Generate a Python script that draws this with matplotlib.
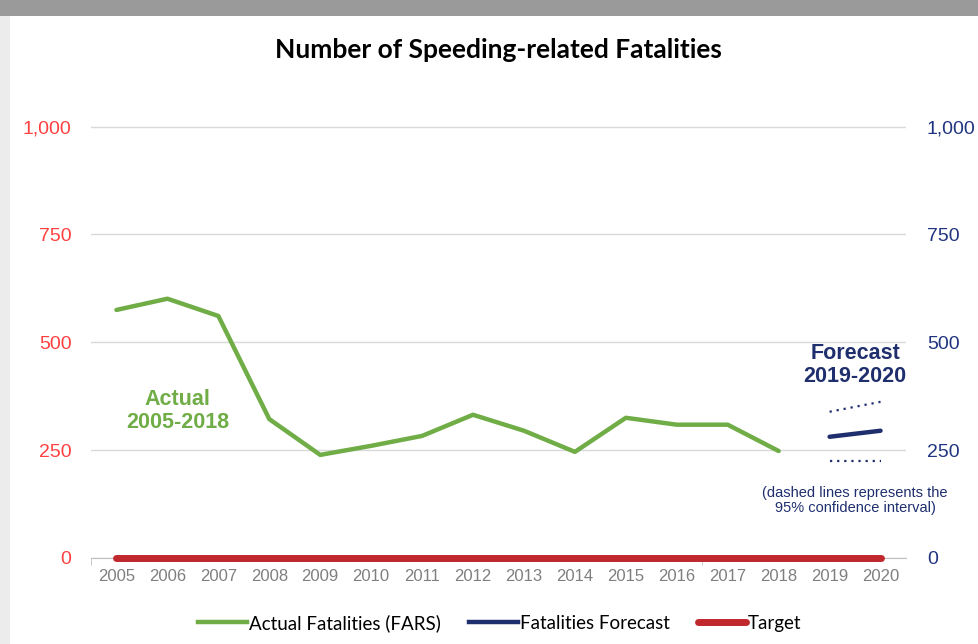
import matplotlib.pyplot as plt
from matplotlib.patches import Rectangle
from matplotlib.lines import Line2D

plt.rcParams['font.family'] = ['Liberation Sans', 'DejaVu Sans']

years = list(range(2005, 2021))
actual_years = list(range(2005, 2019))
actual = [575, 601, 561, 322, 239, 260, 283, 332, 295, 246, 325, 309, 309, 248]
fc_years = [2019, 2020]
forecast = [281, 295]
upper_ci = [339, 362]
lower_ci = [225, 225]
target = [0] * len(years)

green = '#70AD47'
navy = '#1F2F6E'
red = '#C0282D'

fig = plt.figure(figsize=(9.79, 6.44), dpi=100)
fig.patch.set_facecolor('white')

# grey shadow strip on top, thin frame edge on the left
fig.patches.append(Rectangle((0, 1 - 16 / 644), 1, 16 / 644, transform=fig.transFigure,
                             facecolor='#9a9a9a', edgecolor='none'))
fig.patches.append(Rectangle((0, 0), 10 / 979, 1 - 16 / 644, transform=fig.transFigure,
                             facecolor='#ececec', edgecolor='none'))

ax = fig.add_axes([91 / 979, 86 / 644, 815 / 979, 434 / 644])
ax.set_xlim(2004.5, 2020.5)
ax.set_ylim(0, 1006)

ax.plot(years, target, color=red, lw=5, solid_capstyle='round', zorder=3, clip_on=False)
ax.plot(actual_years, actual, color=green, lw=3.2, solid_capstyle='round', zorder=4)
ax.plot(fc_years, forecast, color=navy, lw=3.2, solid_capstyle='round', zorder=4)
ax.plot(fc_years, upper_ci, color=navy, lw=1.6, ls=(0, (1, 2.2)), zorder=4)
ax.plot(fc_years, lower_ci, color=navy, lw=1.6, ls=(0, (1, 2.2)), zorder=4)

ticks = [0, 250, 500, 750, 1000]
tick_labels = ['0', '250', '500', '750', '1,000']
ax.set_yticks(ticks)
ax.set_yticklabels(tick_labels)
ax.grid(axis='y', color='#d9d9d9', lw=1)
ax.set_axisbelow(True)
for s in ['top', 'right', 'left']:
    ax.spines[s].set_visible(False)
ax.spines['bottom'].set_color('#bfbfbf')
ax.tick_params(axis='y', length=0, pad=14, labelsize=14, labelcolor='#FF4040')
ax.set_xticks(years)
ax.set_xticklabels([str(y) for y in years], fontsize=12, color='#7f7f7f')
ax.tick_params(axis='x', length=0, pad=8)
ax.set_xticks([2004.5, 2016.5], minor=True)
ax.tick_params(axis='x', which='minor', length=5, color='#bfbfbf')

ax2 = ax.twinx()
ax2.set_ylim(ax.get_ylim())
ax2.set_yticks(ticks)
ax2.set_yticklabels(tick_labels)
ax2.tick_params(axis='y', length=0, pad=15, labelsize=14, labelcolor='#203480')
for s in ax2.spines.values():
    s.set_visible(False)

ax.text(2006.2, 341, 'Actual\n2005-2018', color=green, fontsize=15.5, fontweight='bold',
        ha='center', va='center', linespacing=1.1)
ax.text(2019.5, 447, 'Forecast\n2019-2020', color=navy, fontsize=15.5, fontweight='bold',
        ha='center', va='center', linespacing=1.1)
ax.text(2019.5, 133, '(dashed lines represents the\n95% confidence interval)', color=navy,
        fontsize=10.5, ha='center', va='center', linespacing=1.05)

fig.text(498 / 979, 1 - 50 / 644, 'Number of Speeding-related Fatalities', ha='center',
         va='center', fontsize=19, fontweight='bold', family=['Lato', 'DejaVu Sans'])

handles = [Line2D([], [], color=green, lw=3.2),
           Line2D([], [], color=navy, lw=3.2),
           Line2D([], [], color=red, lw=5, solid_capstyle='round')]
labels = ['Actual Fatalities (FARS)', 'Fatalities Forecast', 'Target']
fig.legend(handles, labels, loc='center', bbox_to_anchor=(500 / 979, 1 - 623 / 644),
           ncol=3, frameon=False, handlelength=2.6, handletextpad=0.1,
           columnspacing=1.5, prop={'family': ['Lato', 'DejaVu Sans'], 'size': 13.5})

fig.savefig('out.png', dpi=100)
